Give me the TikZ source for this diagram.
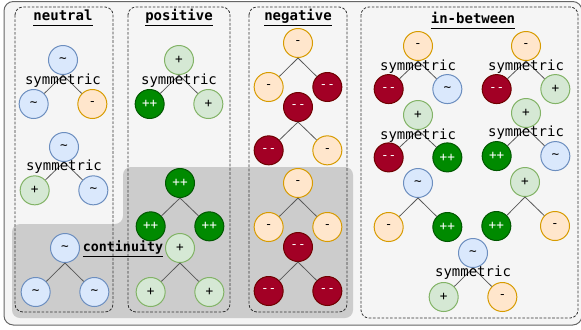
\documentclass[tikz,border=0pt]{standalone}
\usepackage{fontspec}
\setmonofont{DejaVu Sans Mono}
\usepackage{tikz}
\usetikzlibrary{positioning}

\definecolor{bgfill}{HTML}{F5F5F5}
\definecolor{bgline}{HTML}{666666}
\definecolor{contfill}{HTML}{CCCCCC}
\definecolor{neufill}{HTML}{DAE8FC}
\definecolor{neuline}{HTML}{6C8EBF}
\definecolor{posfill}{HTML}{D5E8D4}
\definecolor{posline}{HTML}{82B366}
\definecolor{pposfill}{HTML}{008A00}
\definecolor{pposline}{HTML}{005700}
\definecolor{negfill}{HTML}{FFE6CC}
\definecolor{negline}{HTML}{D79B00}
\definecolor{nnegfill}{HTML}{A20025}
\definecolor{nnegline}{HTML}{6F0000}

\tikzset{
  ball/.style={circle, minimum size=21.75pt, inner sep=0pt, line width=0.75pt,
    font=\ttfamily\fontsize{9.5}{10}\selectfont},
  sneu/.style={ball, fill=neufill, draw=neuline},
  spos/.style={ball, fill=posfill, draw=posline},
  sposs/.style={ball, fill=pposfill, draw=pposline, text=white},
  sneg/.style={ball, fill=negfill, draw=negline},
  snegg/.style={ball, fill=nnegfill, draw=nnegline, text=white},
  link/.style={draw=black!65, line width=0.6pt},
  frame/.style={draw=black!80, line width=0.6pt, dash pattern=on 2pt off 1.2pt, rounded corners=6pt},
  sym/.style={font=\ttfamily\fontsize{10.5}{12}\selectfont, inner sep=0pt},
  title/.style={font=\ttfamily\bfseries\fontsize{10.5}{12}\selectfont, inner sep=0pt}
}
\newcommand{\tl}{\textasciitilde}
\newcommand{\mm}{{-}{-}}

\begin{document}
\begin{tikzpicture}[x=0.75pt, y=-0.75pt, on grid]
  \useasboundingbox (0,0) rectangle (581,329);

  % background and the continuity area
  \draw [fill=bgfill, draw=bgline, line width=0.75pt, rounded corners=7pt] (4,1.5) rectangle (582,325);
  \fill [contfill, rounded corners=6pt] (60,318) -- (12,318) -- (12,224) -- (123,224) -- (123,167)
        -- (353,167) -- (353,318) -- cycle;

  % columns
  \draw [frame] (15,7) rectangle (113,312);
  \draw [frame] (128,7) rectangle (230,312);
  \draw [frame] (249,7) rectangle (347,312);
  \draw [frame] (361,7) rectangle (578,318);

  \node (t-neu) [title] at (63,18) {\underline{neutral\vphantom{gp}}};
  \node (t-pos) [title] at (179,18) {\underline{positive\vphantom{gp}}};
  \node (t-neg) [title] at (298,18) {\underline{negative\vphantom{gp}}};
  \node (t-mid) [title] at (473,21) {\underline{in-between\vphantom{gp}}};

  % neutral
  \node (nu1) [sneu] at (63,60) {\tl};
  \node (nu1-l) [sneu, below left=33pt and 22pt of nu1] {\tl};
  \node (nu1-r) [sneg, below right=33pt and 22pt of nu1] {-};
  \draw [link] (nu1.south) -- (nu1-l);
  \draw [link] (nu1.south) -- (nu1-r);
  \node (nu1-s) [sym, below=15.4pt of nu1] {symmetric};

  \node (nu2) [sneu] at (64,147) {\tl};
  \node (nu2-l) [spos, below left=32.5pt and 22pt of nu2] {+};
  \node (nu2-r) [sneu, below right=32.5pt and 22pt of nu2] {\tl};
  \draw [link] (nu2.south) -- (nu2-l);
  \draw [link] (nu2.south) -- (nu2-r);
  \node (nu2-s) [sym, below=15pt of nu2] {symmetric};

  \node (nu3) [sneu] at (65,248) {\tl};
  \node (nu3-l) [sneu, below left=33pt and 22pt of nu3] {\tl};
  \node (nu3-r) [sneu, below right=33pt and 22pt of nu3] {\tl};
  \draw [link] (nu3.south) -- (nu3-l);
  \draw [link] (nu3.south) -- (nu3-r);
  \node (cont) [title, font=\ttfamily\bfseries\fontsize{10}{12}\selectfont] at (123,249) {\underline{continuity\vphantom{gp}}};

  % positive
  \node (po1) [spos] at (179,60) {+};
  \node (po1-l) [sposs, below left=33pt and 22pt of po1] {++};
  \node (po1-r) [spos, below right=33pt and 22pt of po1] {+};
  \draw [link] (po1.south) -- (po1-l);
  \draw [link] (po1.south) -- (po1-r);
  \node (po1-s) [sym, below=15.4pt of po1] {symmetric};

  \node (po2) [sposs] at (180,183) {++};
  \node (po2-l) [sposs, below left=32.5pt and 22pt of po2] {++};
  \node (po2-r) [sposs, below right=32.5pt and 22pt of po2] {++};
  \draw [link] (po2.south) -- (po2-l);
  \draw [link] (po2.south) -- (po2-r);

  \node (po3) [spos] at (180,248) {+};
  \node (po3-l) [spos, below left=33pt and 22pt of po3] {+};
  \node (po3-r) [spos, below right=33pt and 22pt of po3] {+};
  \draw [link] (po3.south) -- (po3-l);
  \draw [link] (po3.south) -- (po3-r);

  % negative
  \node (ne1) [sneg] at (298,43) {-};
  \node (ne1-l) [sneg, below left=33pt and 22pt of ne1] {-};
  \node (ne1-r) [snegg, below right=33pt and 22pt of ne1] {\mm};
  \draw [link] (ne1.south) -- (ne1-l);
  \draw [link] (ne1.south) -- (ne1-r);

  \node (ne2) [snegg] at (298,107) {\mm};
  \node (ne2-l) [snegg, below left=32.5pt and 22pt of ne2] {\mm};
  \node (ne2-r) [sneg, below right=32.5pt and 22pt of ne2] {-};
  \draw [link] (ne2.south) -- (ne2-l);
  \draw [link] (ne2.south) -- (ne2-r);

  \node (ne3) [sneg] at (298,183) {-};
  \node (ne3-l) [sneg, below left=33pt and 22pt of ne3] {-};
  \node (ne3-r) [sneg, below right=33pt and 22pt of ne3] {-};
  \draw [link] (ne3.south) -- (ne3-l);
  \draw [link] (ne3.south) -- (ne3-r);

  \node (ne4) [snegg] at (298,247) {\mm};
  \node (ne4-l) [snegg, below left=33pt and 22pt of ne4] {\mm};
  \node (ne4-r) [snegg, below right=33pt and 22pt of ne4] {\mm};
  \draw [link] (ne4.south) -- (ne4-l);
  \draw [link] (ne4.south) -- (ne4-r);

  % in-between
  \node (ib1) [sneg] at (418,46) {-};
  \node (ib1-l) [snegg, below left=32.3pt and 22pt of ib1] {\mm};
  \node (ib1-r) [sneu, below right=32.3pt and 22pt of ib1] {\tl};
  \draw [link] (ib1.south) -- (ib1-l);
  \draw [link] (ib1.south) -- (ib1-r);
  \node (ib1-s) [sym, below=15.4pt of ib1] {symmetric};

  \node (ib2) [sneg] at (526,46) {-};
  \node (ib2-l) [snegg, below left=32.3pt and 22pt of ib2] {\mm};
  \node (ib2-r) [spos, below right=32.3pt and 22pt of ib2] {+};
  \draw [link] (ib2.south) -- (ib2-l);
  \draw [link] (ib2.south) -- (ib2-r);
  \node (ib2-s) [sym, below=15.4pt of ib2] {symmetric};

  \node (ib3) [spos] at (418,115) {+};
  \node (ib3-l) [snegg, below left=31.8pt and 22pt of ib3] {\mm};
  \node (ib3-r) [sposs, below right=31.8pt and 22pt of ib3] {++};
  \draw [link] (ib3.south) -- (ib3-l);
  \draw [link] (ib3.south) -- (ib3-r);
  \node (ib3-s) [sym, below=15.2pt of ib3] {symmetric};

  \node (ib4) [spos] at (526,113) {+};
  \node (ib4-l) [sposs, below left=32.3pt and 22pt of ib4] {++};
  \node (ib4-r) [sneu, below right=32.3pt and 22pt of ib4] {\tl};
  \draw [link] (ib4.south) -- (ib4-l);
  \draw [link] (ib4.south) -- (ib4-r);
  \node (ib4-s) [sym, below=15pt of ib4] {symmetric};

  \node (ib5) [sneu] at (418,183) {\tl};
  \node (ib5-l) [sneg, below left=33pt and 22pt of ib5] {-};
  \node (ib5-r) [sposs, below right=33pt and 22pt of ib5] {++};
  \draw [link] (ib5.south) -- (ib5-l);
  \draw [link] (ib5.south) -- (ib5-r);

  \node (ib6) [spos] at (525,182) {+};
  \node (ib6-l) [sposs, below left=33pt and 21.5pt of ib6] {++};
  \node (ib6-r) [sneg, below right=33pt and 22.5pt of ib6] {-};
  \draw [link] (ib6.south) -- (ib6-l);
  \draw [link] (ib6.south) -- (ib6-r);

  \node (ib7) [sneu] at (473,253) {\tl};
  \node (ib7-l) [spos, below left=33pt and 22pt of ib7] {+};
  \node (ib7-r) [sneg, below right=33pt and 22pt of ib7] {-};
  \draw [link] (ib7.south) -- (ib7-l);
  \draw [link] (ib7.south) -- (ib7-r);
  \node (ib7-s) [sym, below=15pt of ib7] {symmetric};
\end{tikzpicture}
\end{document}
